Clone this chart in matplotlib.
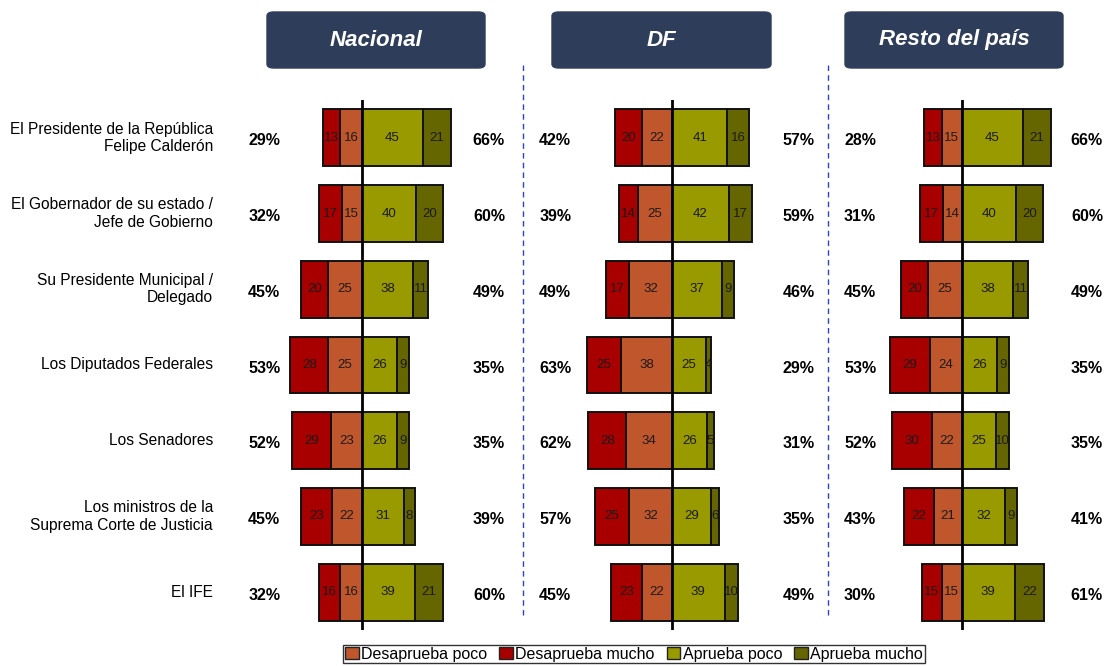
import matplotlib
matplotlib.use("Agg")
import matplotlib.pyplot as plt
from matplotlib.patches import Patch, FancyBboxPatch
from matplotlib.lines import Line2D

plt.rcParams['font.family'] = ['Liberation Sans', 'DejaVu Sans']

categories = [
    "El Presidente de la República\nFelipe Calderón",
    "El Gobernador de su estado /\nJefe de Gobierno",
    "Su Presidente Municipal /\nDelegado",
    "Los Diputados Federales",
    "Los Senadores",
    "Los ministros de la\nSuprema Corte de Justicia",
    "El IFE",
]
panel_titles = ["Nacional", "DF", "Resto del país"]
series_names = ["Desaprueba poco", "Desaprueba mucho", "Aprueba poco", "Aprueba mucho"]

nac_des_mucho = [13, 17, 20, 28, 29, 23, 16]
nac_des_poco = [16, 15, 25, 25, 23, 22, 16]
nac_apr_poco = [45, 40, 38, 26, 26, 31, 39]
nac_apr_mucho = [21, 20, 11, 9, 9, 8, 21]
nac_des_total = [29, 32, 45, 53, 52, 45, 32]
nac_apr_total = [66, 60, 49, 35, 35, 39, 60]

df_des_mucho = [20, 14, 17, 25, 28, 25, 23]
df_des_poco = [22, 25, 32, 38, 34, 32, 22]
df_apr_poco = [41, 42, 37, 25, 26, 29, 39]
df_apr_mucho = [16, 17, 9, 4, 5, 6, 10]
df_des_total = [42, 39, 49, 63, 62, 57, 45]
df_apr_total = [57, 59, 46, 29, 31, 35, 49]

resto_des_mucho = [13, 17, 20, 29, 30, 22, 15]
resto_des_poco = [15, 14, 25, 24, 22, 21, 15]
resto_apr_poco = [45, 40, 38, 26, 25, 32, 39]
resto_apr_mucho = [21, 20, 11, 9, 10, 9, 22]
resto_des_total = [28, 31, 45, 53, 52, 43, 30]
resto_apr_total = [66, 60, 49, 35, 35, 41, 61]

panels = [
    (nac_des_mucho, nac_des_poco, nac_apr_poco, nac_apr_mucho, nac_des_total, nac_apr_total),
    (df_des_mucho, df_des_poco, df_apr_poco, df_apr_mucho, df_des_total, df_apr_total),
    (resto_des_mucho, resto_des_poco, resto_apr_poco, resto_apr_mucho, resto_des_total, resto_apr_total),
]

C_DP = "#C0562C"
C_DM = "#A80000"
C_AP = "#999900"
C_AM = "#666600"

W, H = 1104, 666
fig = plt.figure(figsize=(W / 100, H / 100), dpi=100)

scale = 1.35  # px per unit
centers = [362, 672, 962]
half = 75
left_lbl = [-72.5, -86.5, -75.5]
right_lbl = [94, 94, 92.5]
ax_top, ax_bot = 100, 630

n = len(categories)
ys = list(range(n))
bh = 0.75

for p, (cx, data) in enumerate(zip(centers, panels)):
    dm, dp, ap, am, dtot, atot = data
    x0 = cx - half * scale
    ax = fig.add_axes([x0 / W, (H - ax_bot) / H, 2 * half * scale / W, (ax_bot - ax_top) / H])
    ax.set_xlim(-half, half)
    ax.set_ylim(n - 0.5, -0.5)
    ax.axis('off')
    ax.patch.set_alpha(0)
    neg_dp = [-v for v in dp]
    neg_dm = [-v for v in dm]
    kw = dict(height=bh, edgecolor='#111111', linewidth=1.4, zorder=2)
    ax.barh(ys, neg_dp, left=0, color=C_DP, **kw)
    ax.barh(ys, neg_dm, left=neg_dp, color=C_DM, **kw)
    ax.barh(ys, ap, left=0, color=C_AP, **kw)
    ax.barh(ys, am, left=ap, color=C_AM, **kw)
    ax.axvline(0, color='black', lw=2, zorder=3)
    for i in ys:
        segs = [(-dp[i] - dm[i] / 2, dm[i]), (-dp[i] / 2, dp[i]),
                (ap[i] / 2, ap[i]), (ap[i] + am[i] / 2, am[i])]
        for xc, v in segs:
            ax.text(xc, i, str(v), ha='center', va='center', fontsize=9.5,
                    color='#1a1a1a', zorder=4)
        ax.text(left_lbl[p], i + 0.04, f"{dtot[i]}%", ha='center', va='center',
                fontsize=11.5, fontweight='bold')
        ax.text(right_lbl[p], i + 0.04, f"{atot[i]}%", ha='center', va='center',
                fontsize=11.5, fontweight='bold')
    if p == 0:
        for i, c in enumerate(categories):
            ax.text((213 - cx) / scale, i, c, ha='right', va='center', fontsize=11.2,
                    linespacing=1.2)

# header boxes
boxes = [(267, 485), (552, 771), (845, 1063)]
for (bx0, bx1), t in zip(boxes, panel_titles):
    by0, by1 = 12, 68
    fb = FancyBboxPatch((bx0 / W, (H - by1) / H), (bx1 - bx0) / W, (by1 - by0) / H,
                        boxstyle="round,pad=0,rounding_size=0.006",
                        transform=fig.transFigure, facecolor="#2E3D5A",
                        edgecolor="#2E3D5A", zorder=1)
    fig.patches.append(fb)
    fig.text((bx0 + bx1) / 2 / W, (H - (by0 + by1) / 2) / H, t, ha='center', va='center',
             color='white', fontsize=16, fontweight='bold', fontstyle='italic')

# dashed separators
for xs in (523, 828):
    fig.add_artist(Line2D([xs / W, xs / W], [(H - 615) / H, (H - 65) / H],
                          transform=fig.transFigure, color='#3040D0', lw=1,
                          linestyle=(0, (4, 3))))

handles = [Patch(facecolor=c, edgecolor='#222222', lw=1) for c in (C_DP, C_DM, C_AP, C_AM)]
leg = fig.legend(handles, series_names, loc='center', bbox_to_anchor=(634 / W, 1 - 654 / H),
                 ncol=4, frameon=True, fancybox=False, edgecolor='black', fontsize=11.5,
                 handlelength=0.85, handleheight=0.85, handletextpad=0.15,
                 columnspacing=0.75, borderpad=0.12, borderaxespad=0)
leg.get_frame().set_linewidth(1)

fig.savefig("out.png", dpi=100)
